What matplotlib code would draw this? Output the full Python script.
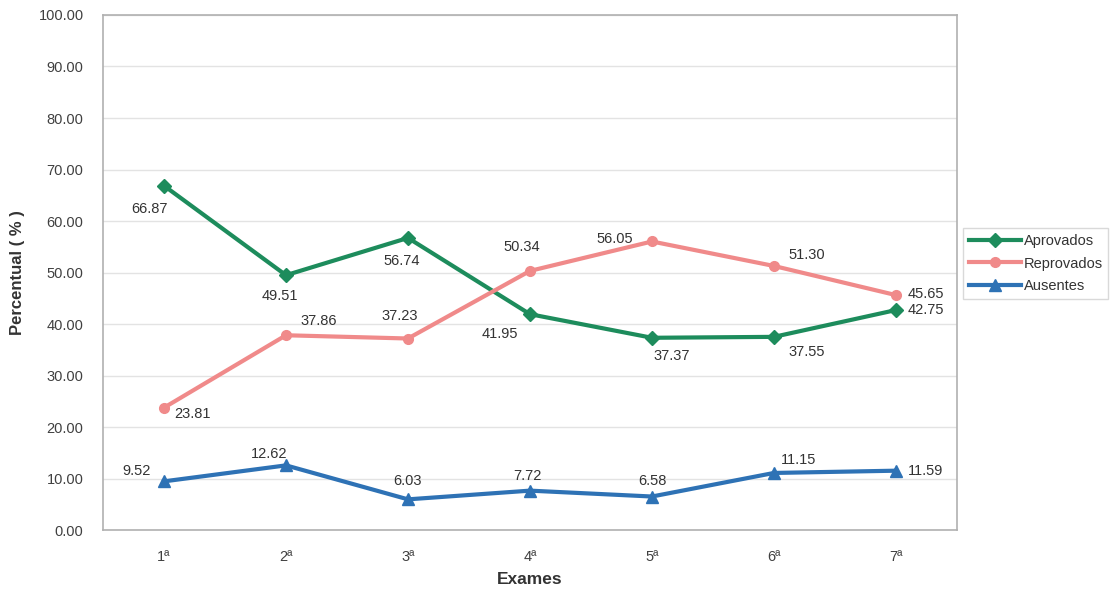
import matplotlib
matplotlib.use("Agg")
import matplotlib.pyplot as plt
from matplotlib.ticker import MultipleLocator, FuncFormatter

plt.rcParams['font.family'] = ['Liberation Sans', 'DejaVu Sans']

exames = ["1ª", "2ª", "3ª", "4ª", "5ª", "6ª", "7ª"]
aprovados = [66.87, 49.51, 56.74, 41.95, 37.37, 37.55, 42.75]
reprovados = [23.81, 37.86, 37.23, 50.34, 56.05, 51.30, 45.65]
ausentes = [9.52, 12.62, 6.03, 7.72, 6.58, 11.15, 11.59]

# label offsets in pixels (dx, dy) relative to marker, dy positive = up
off_apr = [(-14, -23), (-6, -21), (-6, -23), (-30, -20), (20, -18), (33, -15), (12, 0)]
off_rep = [(10, -6), (14, 14), (-8, 23), (-8, 24), (-37, 2), (15, 11), (12, 1)]
off_aus = [(-27, 10), (-17, 11), (0, 18), (-3, 15), (0, 16), (25, 13), (12, 0)]
ha_apr = ['center', 'center', 'center', 'center', 'center', 'center', 'left']
ha_rep = ['left', 'left', 'center', 'center', 'center', 'left', 'left']
ha_aus = ['center', 'center', 'center', 'center', 'center', 'center', 'left']

c_apr = '#1d8c5c'
c_rep = '#f08a8a'
c_aus = '#2e72b5'

fig = plt.figure(figsize=(11.17, 5.96), dpi=100)
ax = fig.add_axes([0.0922, 0.110, 0.7645, 0.865])

x = list(range(len(exames)))
ax.plot(x, aprovados, color=c_apr, lw=3, marker='D', ms=7, label='Aprovados', zorder=3)
ax.plot(x, reprovados, color=c_rep, lw=3, marker='o', ms=7, label='Reprovados', zorder=3)
ax.plot(x, ausentes, color=c_aus, lw=3, marker='^', ms=8, label='Ausentes', zorder=3)

def lab(vals, offs, has):
    for i, (v, (dx, dy), ha) in enumerate(zip(vals, offs, has)):
        ax.annotate(f"{v:.2f}", (i, v), xytext=(dx, dy), textcoords='offset pixels',
                    ha=ha, va='center', fontsize=10.5, color='#333333', zorder=4)

lab(aprovados, off_apr, ha_apr)
lab(reprovados, off_rep, ha_rep)
lab(ausentes, off_aus, ha_aus)

ax.set_xlim(-0.5, 6.5)
ax.set_ylim(0, 100)
ax.yaxis.set_major_locator(MultipleLocator(10))
ax.yaxis.set_major_formatter(FuncFormatter(lambda v, p: f"{v:.2f}"))
ax.set_xticks(x)
ax.set_xticklabels(exames)
ax.tick_params(axis='both', length=0, labelsize=10.5, labelcolor='#404040')
ax.tick_params(axis='x', pad=14)
ax.tick_params(axis='y', pad=14)
ax.grid(axis='y', color='#e3e3e3', lw=1)
ax.set_axisbelow(True)
for s in ax.spines.values():
    s.set_color('#b0b0b0')
    s.set_linewidth(1.2)

ax.set_xlabel('Exames', fontsize=12.5, fontweight='bold', color='#333333', labelpad=6)
ax.set_ylabel('Percentual ( % )', fontsize=12, fontweight='bold', color='#333333', labelpad=10)

leg = fig.legend(loc='upper left', bbox_to_anchor=(963/1117, 1 - 228/596),
                 frameon=True, fontsize=10.5, handlelength=3.6, handletextpad=0.15,
                 labelspacing=0.6, borderaxespad=0, borderpad=0.4, fancybox=False)
leg.get_frame().set_edgecolor('#d0d0d0')
leg.get_frame().set_linewidth(1)
for t in leg.get_texts():
    t.set_color('#333333')

fig.savefig('out.png', dpi=100)
